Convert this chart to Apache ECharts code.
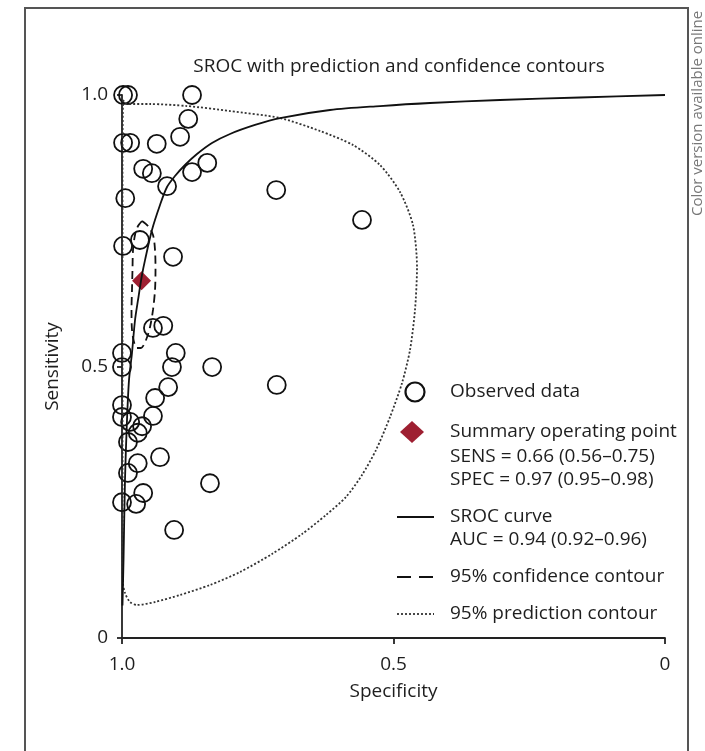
<!DOCTYPE html>
<html>
<head>
<meta charset="utf-8">
<title>SROC</title>
<script src="https://cdn.jsdelivr.net/npm/echarts@6/dist/echarts.min.js"></script>
<style>
  html, body { margin: 0; padding: 0; background: #fff; }
  #chart { width: 705px; height: 751px; }
</style>
</head>
<body>
<div id="chart"></div>
<script>
// observed studies (specificity, sensitivity)
const observedSpec = [0.998, 0.989, 0.871, 0.878, 0.893, 0.998, 0.985, 0.936, 0.961, 0.945, 0.871,
  0.843, 0.917, 0.716, 0.994, 0.967, 0.998, 0.906, 0.558, 0.943, 0.924, 1.000, 1.000, 0.901,
  0.908, 0.834, 0.715, 0.915, 0.939, 1.000, 1.000, 0.943, 0.985, 0.963, 0.971, 0.989, 0.930,
  0.971, 0.989, 0.961, 1.000, 0.974, 0.838, 0.904]
const observedSens = [1.000, 1.000, 1.000, 0.956, 0.923, 0.912, 0.912, 0.910, 0.864, 0.856, 0.858,
  0.875, 0.832, 0.825, 0.810, 0.733, 0.722, 0.702, 0.770, 0.571, 0.575, 0.525, 0.499, 0.525,
  0.499, 0.499, 0.466, 0.462, 0.442, 0.429, 0.407, 0.409, 0.398, 0.390, 0.378, 0.361, 0.333,
  0.322, 0.304, 0.267, 0.250, 0.247, 0.285, 0.199]

// summary operating point
const summarySpec = 0.964
const summarySens = 0.658

// SROC curve
const srocSpec = [0.9991, 0.9972, 0.9945, 0.9908, 0.9871, 0.9816, 0.976, 0.9705, 0.9632, 0.9576,
  0.9448, 0.930, 0.9171, 0.9024, 0.8840, 0.8619, 0.8343, 0.8011, 0.7551, 0.709, 0.617, 0.5249,
  0.4328, 0.3039, 0.1565, 0]
const srocSens = [0.06, 0.1436, 0.291, 0.4015, 0.475, 0.525, 0.5856, 0.6225, 0.6685, 0.696,
  0.7514, 0.7974, 0.8306, 0.8508, 0.8711, 0.8913, 0.9116, 0.9282, 0.9448, 0.9576, 0.9724, 0.9797,
  0.9853, 0.9908, 0.9954, 1.0]

// 95% confidence contour
const confSpec = [0.9632, 0.9521, 0.9429, 0.9392, 0.9383, 0.9392, 0.9429, 0.9484, 0.9558, 0.9650,
  0.9724, 0.9779, 0.9816, 0.9825, 0.9816, 0.9807, 0.9797, 0.9761, 0.9705, 0.9632]
const confSens = [0.7680, 0.7587, 0.7422, 0.7145, 0.6777, 0.6409, 0.6041, 0.5727, 0.5488, 0.5341,
  0.5341, 0.5451, 0.5672, 0.6041, 0.6409, 0.6777, 0.7145, 0.7422, 0.7587, 0.7680]

// 95% prediction contour
const predSpec = [0.9982, 0.9908, 0.9484, 0.8803, 0.8011, 0.7090, 0.6354, 0.5746, 0.5249, 0.4880,
  0.4641, 0.4567, 0.4604, 0.4696, 0.4843, 0.5064, 0.5322, 0.5580, 0.5875, 0.6243, 0.6685, 0.7238,
  0.7827, 0.8379, 0.8932, 0.9392, 0.9724, 0.9853, 0.9945, 0.9982, 0.9991, 0.9991, 0.9991, 0.9982]
const predSens = [0.9908, 0.9834, 0.9834, 0.9797, 0.9705, 0.9576, 0.9337, 0.9079, 0.8711, 0.8214,
  0.7606, 0.6832, 0.6041, 0.5304, 0.4696, 0.4070, 0.3462, 0.3002, 0.2597, 0.2265, 0.1915, 0.1547,
  0.1215, 0.0976, 0.0792, 0.0663, 0.0608, 0.0663, 0.0829, 0.1013, 0.2541, 0.6225, 0.8987, 0.9908]

const tickLabels = { 0: '0', 0.5: '0.5', 1: '1.0' }

const FONT = '"Open Sans", "Noto Sans", sans-serif'
const TXT = '#1e1e1e'
const RED = '#9e1f31'

const zip = (a, b) => a.map((v, i) => [v, b[i]])

const chart = echarts.init(document.getElementById('chart'))

// legend drawn by hand (icons + multi-line text)
const legendX = 450
function legendText(text, y) {
  return { type: 'text', style: { x: legendX, y: y, text: text, font: '19px ' + FONT, fill: TXT, verticalAlign: 'middle' } }
}
const legendItems = [
  { type: 'circle', shape: { cx: 415, cy: 392, r: 9.5 }, style: { fill: '#fff', stroke: '#111', lineWidth: 2.2 } },
  legendText('Observed data', 392),
  { type: 'polygon', shape: { points: [[412, 421], [424, 432], [412, 443], [400, 432]] }, style: { fill: RED } },
  legendText('Summary operating point', 432),
  legendText('SENS = 0.66 (0.56–0.75)', 457),
  legendText('SPEC = 0.97 (0.95–0.98)', 480),
  { type: 'line', shape: { x1: 397, y1: 517, x2: 434, y2: 517 }, style: { stroke: '#111', lineWidth: 1.8 } },
  legendText('SROC curve', 517),
  legendText('AUC = 0.94 (0.92–0.96)', 540),
  { type: 'line', shape: { x1: 397, y1: 577, x2: 434, y2: 577 }, style: { stroke: '#111', lineWidth: 1.8, lineDash: [14, 8] } },
  legendText('95% confidence contour', 577),
  { type: 'line', shape: { x1: 397, y1: 614, x2: 434, y2: 614 }, style: { stroke: '#333', lineWidth: 1.8, lineDash: [2, 2] } },
  legendText('95% prediction contour', 614)
]

chart.setOption({
  animation: false,
  backgroundColor: '#fff',
  title: {
    text: 'SROC with prediction and confidence contours',
    left: 394,
    top: 52,
    textAlign: 'center',
    textStyle: { fontFamily: FONT, fontSize: 19, fontWeight: 'normal', color: TXT }
  },
  grid: { left: 122, right: 40, top: 95, bottom: 113 },
  xAxis: {
    type: 'value',
    inverse: true,
    min: 0,
    max: 1,
    interval: 0.5,
    name: 'Specificity',
    nameLocation: 'middle',
    nameGap: 44,
    nameTextStyle: { fontFamily: FONT, fontSize: 19, color: TXT },
    axisLine: { show: true, onZero: false, lineStyle: { color: '#222', width: 1.8 } },
    axisTick: { show: true, length: 6, lineStyle: { color: '#222', width: 1.8 } },
    axisLabel: { formatter: v => tickLabels[v], fontFamily: FONT, fontSize: 19, color: TXT, margin: 17 },
    splitLine: { show: false }
  },
  yAxis: {
    type: 'value',
    min: 0,
    max: 1,
    interval: 0.5,
    name: 'Sensitivity',
    nameLocation: 'middle',
    nameRotate: 90,
    nameGap: 60,
    nameTextStyle: { fontFamily: FONT, fontSize: 19, color: TXT },
    axisLine: { show: true, onZero: false, lineStyle: { color: '#222', width: 1.8 } },
    axisTick: { show: true, length: 5, lineStyle: { color: '#222', width: 1.8 } },
    axisLabel: { formatter: v => tickLabels[v], fontFamily: FONT, fontSize: 19, color: TXT, margin: 14 },
    splitLine: { show: false }
  },
  series: [
    {
      name: '95% prediction contour',
      type: 'line',
      data: zip(predSpec, predSens),
      symbol: 'none',
      smooth: 0.25,
      lineStyle: { color: '#333', width: 1.8, type: [2, 2] }
    },
    {
      name: 'SROC curve',
      type: 'line',
      data: zip(srocSpec, srocSens),
      symbol: 'none',
      smooth: 0.3,
      lineStyle: { color: '#111', width: 1.8 }
    },
    {
      name: '95% confidence contour',
      type: 'line',
      data: zip(confSpec, confSens),
      symbol: 'none',
      smooth: 0.3,
      lineStyle: { color: '#111', width: 1.8, type: [8, 5] }
    },
    {
      name: 'Observed data',
      type: 'scatter',
      data: zip(observedSpec, observedSens),
      symbol: 'circle',
      symbolSize: 18,
      itemStyle: { color: 'rgba(255,255,255,0)', borderColor: '#111', borderWidth: 1.8, opacity: 1 }
    },
    {
      name: 'Summary operating point',
      type: 'scatter',
      data: [[summarySpec, summarySens]],
      symbol: 'diamond',
      symbolSize: 19,
      itemStyle: { color: RED, opacity: 1 }
    }
  ],
  graphic: [
    // page frame
    { type: 'polyline', shape: { points: [[25, 751], [25, 8], [688, 8], [688, 751]] }, style: { fill: null, stroke: '#555', lineWidth: 2 } },
    { type: 'text', x: 698, y: 216, rotation: Math.PI / 2, style: { text: 'Color version available online', font: '15px ' + FONT, fill: '#777', verticalAlign: 'middle' } }
  ].concat(legendItems)
})
</script>
</body>
</html>
